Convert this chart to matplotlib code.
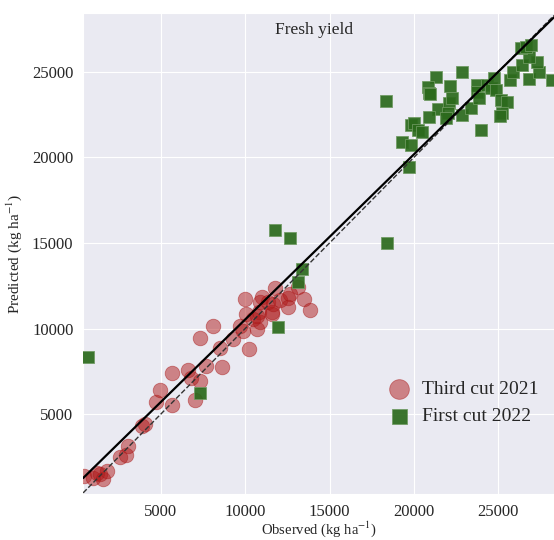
import numpy as np
import matplotlib
matplotlib.use('Agg')
import matplotlib.pyplot as plt
import seaborn as sns

# Third cut 2021: observed / predicted fresh yield (kg/ha)
obs_2021 = [444, 976, 1213, 1391, 1568, 1805, 2574, 2929, 3047, 3876, 4053, 4704,
            4941, 5651, 5651, 6598, 6775, 7308, 7012, 7308, 8077, 8491, 8609, 7663,
            9260, 9674, 9852, 9970, 10030, 10207, 10444, 10680, 10858, 10799, 10976,
            10858, 11331, 11568, 11568, 11627, 11745, 12041, 12515, 12633, 12515,
            13107, 13462, 13816, 10680]
pred_2021 = [1383, 1266, 1558, 1500, 1208, 1675, 2491, 2608, 3133, 4300, 4417, 5700,
             6400, 5525, 7392, 7567, 7100, 6925, 5817, 9434, 10134, 8850, 7742, 7800,
             9376, 10134, 9842, 11709, 10834, 8792, 10542, 9959, 10367, 10951, 11826,
             11534, 11534, 10951, 10834, 11417, 12351, 11651, 11767, 12001, 11242,
             12409, 11709, 11067, 10717]

# First cut 2022
obs_2022 = [18372, 21331, 22869, 20858, 20917, 20976, 22159, 21449, 22100, 22278,
            22041, 20917, 21923, 22869, 23402, 23757, 23757, 23875, 24348, 24585,
            24763, 24881, 25177, 25532, 25236, 25118, 23994, 25710, 25887, 26420,
            26834, 27426, 27307, 26834, 26361, 26656, 26952, 28195, 19852, 20029,
            20266, 20503, 19319, 19852, 19733, 11745, 12633, 13343, 13107, 11923,
            18431, 681, 7308]
pred_2022 = [23319, 24719, 25011, 24136, 23785, 23727, 24194, 22852, 23202, 23494,
             22619, 22385, 22327, 22502, 22910, 24252, 23844, 23494, 24252, 24077,
             24660, 23960, 23377, 23260, 22619, 22443, 21627, 24544, 25011, 25419,
             24602, 25011, 25594, 25886, 26411, 26470, 26586, 24544, 21919, 22035,
             21627, 21510, 20927, 20752, 19468, 15735, 15268, 13459, 12701, 10076,
             14976, 8325, 6225]

# fitted regression line
slope = 0.965
intercept = 880

xlim = (400, 28300)
ylim = (330, 28440)

sns.set_style('darkgrid')
plt.rcParams['font.family'] = ['Liberation Serif', 'DejaVu Serif']
plt.rcParams['mathtext.fontset'] = 'stix'

fig = plt.figure(figsize=(5.54, 5.40), dpi=100)
ax = fig.add_axes([0.15, 0.085, 0.85, 0.891])

ax.scatter(obs_2021, pred_2021, s=110, marker='o', color='#b01c1c', alpha=0.5,
           edgecolor='#a81616', linewidth=0.6, label='Third cut 2021', zorder=3)
ax.scatter(obs_2022, pred_2022, s=64, marker='s', color='#2b6a1c', alpha=0.92,
           edgecolor='#6f9a62', linewidth=0.6, label='First cut 2022', zorder=3)

xs = np.array(xlim)
ax.plot(xs, xs, color='#333333', linestyle='--', linewidth=1.0, zorder=4)
ax.plot(xs, slope * xs + intercept, color='black', linewidth=1.6, zorder=4)

ax.set_xlim(*xlim)
ax.set_ylim(*ylim)
ax.set_xticks([5000, 10000, 15000, 20000, 25000])
ax.set_yticks([5000, 10000, 15000, 20000, 25000])
ax.tick_params(labelsize=12, colors='#262626')
ax.tick_params(axis='x', pad=3.5)

ax.set_xlabel('Observed (kg ha$^{-1}$)', fontsize=10.5, labelpad=0)
ax.set_ylabel('Predicted (kg ha$^{-1}$)', fontsize=11, labelpad=6)
ax.text(0.49, 0.965, 'Fresh yield', transform=ax.transAxes, ha='center', va='center',
        fontsize=12.5)

ax.legend(loc='center left', bbox_to_anchor=(0.6, 0.19), frameon=False, fontsize=14,
          markerscale=1.35, handletextpad=0.2, labelspacing=0.45, borderpad=0.2)

plt.savefig('out.png', dpi=100)
